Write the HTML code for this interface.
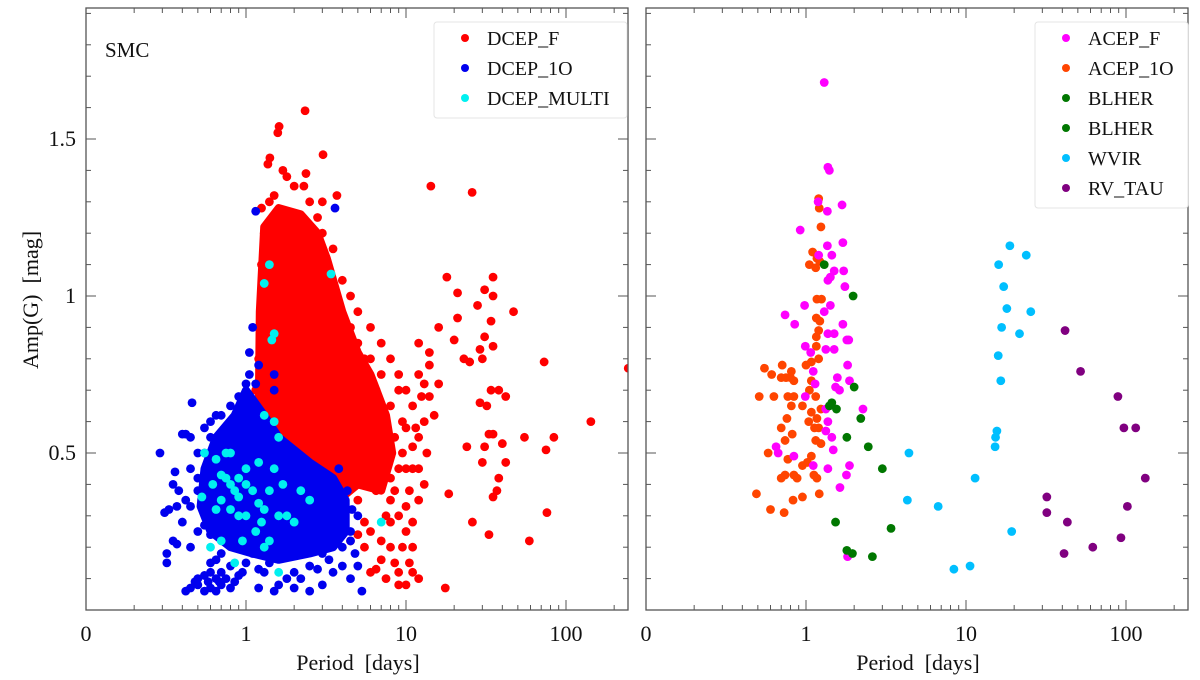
<!DOCTYPE html>
<html><head><meta charset="utf-8"><style>
html,body{margin:0;padding:0;background:#fff;}
svg{display:block;font-family:"Liberation Serif",serif;}
</style></head><body>
<svg id="chart" width="1200" height="680" viewBox="0 0 1200 680"></svg>
<script>
// ---- data (period [days], amplitude [mag]) ----
const dcepFCoreP=[1.2,1.22,1.3,1.6,2.2,2.8,3.2,4,5,6,7.5,8.2,7,5,4,3,2.2,1.6,1.25];
const dcepFCoreA=[0.62,0.95,1.22,1.28,1.26,1.2,1.12,0.95,0.82,0.75,0.62,0.5,0.38,0.4,0.36,0.4,0.45,0.55,0.6];
const dcepFP=[2.34,1.61,1.58,3.03,1.41,1.37,2.37,14.3,25.9,3.7,18,35,21,31,35,28,47,21,34,31,20,73,245,29,35,23,25,30,34,38,42,29,32,33,35,24,143,55,84,75,31,40,30,42,38,37,35,18.5,76,26,33,59,17.6,6,7,8,9,10,10.5,9.5,8.5,7.5,6.5,10,11,12,9,5.5,6,7,8,11,12,13,11,14,15,16,12,10,9,8,7,6,5,4.5,5.5,6.5,7.5,8.5,9.5,10,11,12,13,14,10,11,7,6,5,4.5,5,4.5,5.5,4,3.5,2.8,2.5,2,1.8,1.5,1.3,1.25,1.2,1.2,1.15,3,4.5,12,16,14,
  3.5,4,4.5,5,5.5,6,6.5,7,7.5,8,8.5,9,9.5,10,8,9,7,6,5,4,5.5,6.5,7.5,8,9,10.5,6,5,7,11,12,13,11.5,12.5,13.5,3,2.3,1.7,1.4,1.25];
const dcepFA=[1.59,1.54,1.52,1.45,1.44,1.42,1.39,1.35,1.33,1.32,1.06,1.06,1.01,1.02,1.0,0.97,0.95,0.93,0.92,0.87,0.86,0.79,0.77,0.83,0.84,0.80,0.79,0.80,0.70,0.70,0.68,0.66,0.65,0.56,0.56,0.52,0.60,0.55,0.55,0.51,0.52,0.53,0.47,0.47,0.42,0.38,0.36,0.37,0.31,0.28,0.24,0.22,0.07,0.45,0.4,0.35,0.3,0.25,0.38,0.2,0.15,0.1,0.13,0.08,0.12,0.1,0.08,0.2,0.12,0.22,0.28,0.45,0.55,0.6,0.65,0.68,0.62,0.72,0.75,0.7,0.75,0.8,0.85,0.9,0.95,1.0,0.8,0.7,0.6,0.55,0.5,0.58,0.52,0.45,0.72,0.78,0.33,0.28,0.55,0.6,0.65,0.5,0.35,0.22,0.28,1.05,1.15,1.25,1.3,1.35,1.38,1.32,1.2,1.1,0.9,0.8,0.7,1.2,0.9,0.85,0.9,0.82,
  0.95,0.88,0.8,0.72,0.68,0.62,0.58,0.5,0.45,0.42,0.38,0.45,0.6,0.45,0.65,0.7,0.75,0.8,0.85,0.7,0.5,0.38,0.3,0.2,0.12,0.15,0.25,0.24,0.16,0.2,0.35,0.4,0.58,0.68,0.5,1.3,1.35,1.4,1.3,1.28];
const dcep1OCoreP=[1.0,1.3,1.6,2.5,3.5,4.2,4.2,3.5,2.5,1.6,1.1,0.8,0.6,0.52,0.55,0.65,0.85];
const dcep1OCoreA=[0.7,0.62,0.55,0.47,0.42,0.35,0.25,0.2,0.18,0.16,0.18,0.2,0.25,0.33,0.45,0.55,0.62];
const dcep1OP=[3.6,1.15,0.29,0.46,0.40,0.42,0.36,0.35,0.31,0.33,0.37,0.37,0.32,0.32,0.42,0.45,0.5,0.55,0.6,0.65,0.7,0.75,0.8,0.85,0.5,0.55,0.6,0.65,0.7,0.48,0.58,0.68,0.9,0.95,1.2,1.5,1.6,2,2.5,3,5.3,4.5,4,3.5,2.2,1.8,1.3,1.0,1.1,1.4,2.8,3.3,4.8,5,0.9,0.7,0.6,0.55,0.45,0.5,0.45,0.5,0.6,0.65,0.55,0.7,1.1,1.05,1.05,1.15,1.5,1.5,1.2,2.6,4.5,5,
  0.45,0.5,0.55,0.5,0.55,0.6,0.7,0.8,0.9,0.4,0.42,0.6,0.8,1.2,2,2.5,3,4,4.5,4.6,4.3,3.8,0.35,0.38,1.0,1.1,0.45,0.65];
const dcep1OA=[1.28,1.27,0.50,0.66,0.56,0.56,0.44,0.40,0.31,0.32,0.33,0.21,0.18,0.15,0.06,0.07,0.08,0.06,0.07,0.06,0.08,0.1,0.07,0.09,0.1,0.11,0.12,0.1,0.12,0.09,0.09,0.09,0.11,0.12,0.07,0.06,0.08,0.07,0.06,0.08,0.06,0.1,0.14,0.12,0.1,0.1,0.12,0.15,0.18,0.15,0.13,0.16,0.18,0.14,0.2,0.18,0.24,0.27,0.33,0.38,0.45,0.5,0.6,0.62,0.58,0.55,0.9,0.82,0.75,0.72,0.75,0.7,0.78,0.36,0.22,0.3,
  0.2,0.25,0.32,0.42,0.5,0.55,0.62,0.65,0.68,0.28,0.35,0.15,0.14,0.13,0.12,0.14,0.18,0.2,0.25,0.32,0.38,0.45,0.22,0.38,0.72,0.62,0.55,0.16];
const dcepMP=[1.4,3.4,1.3,1.5,1.45,0.55,0.65,0.8,1.0,1.2,1.5,1.3,1.5,1.6,0.7,0.75,0.8,0.85,0.9,0.7,0.65,0.8,0.9,1.0,1.2,1.3,1.6,1.8,2.0,2.5,1.4,1.1,0.6,0.7,0.85,1.3,1.6,1.4,7,0.53,1.0,0.75,2.2,1.7,1.15,0.95,1.25,0.62,0.9];
const dcepMA=[1.10,1.07,1.04,0.88,0.86,0.5,0.48,0.5,0.45,0.47,0.45,0.62,0.6,0.55,0.43,0.42,0.4,0.38,0.36,0.35,0.32,0.32,0.3,0.3,0.34,0.32,0.3,0.3,0.28,0.35,0.38,0.38,0.2,0.22,0.15,0.2,0.12,0.22,0.28,0.36,0.4,0.5,0.38,0.4,0.25,0.22,0.28,0.4,0.42];
const acepFP=[1.30,1.37,1.4,1.19,1.36,1.68,0.92,1.36,1.7,1.45,1.2,1.5,1.72,1.37,1.42,1.75,0.98,1.42,1.3,0.74,0.85,1.7,1.37,1.5,1.8,1.85,0.99,1.07,1.33,1.5,1.82,1.11,1.57,1.87,1.14,1.53,1.62,0.99,2.27,1.33,1.37,1.33,1.45,0.65,0.67,0.84,1.48,1.11,1.87,1.37,1.79,1.63,1.82];
const acepFA=[1.68,1.41,1.40,1.30,1.27,1.29,1.21,1.16,1.17,1.13,1.13,1.08,1.08,1.05,1.06,1.03,0.97,0.97,0.95,0.94,0.91,0.91,0.88,0.88,0.86,0.86,0.84,0.82,0.83,0.83,0.78,0.76,0.74,0.73,0.72,0.71,0.70,0.68,0.64,0.64,0.60,0.57,0.55,0.52,0.50,0.49,0.51,0.46,0.46,0.45,0.43,0.39,0.17];
const acep1OP=[1.2,1.21,1.24,1.1,1.05,1.17,1.15,1.22,1.17,1.25,1.16,1.22,1.16,1.2,1.16,1.2,1.08,1.0,0.71,0.55,0.61,0.7,0.75,0.8,0.84,0.81,1.08,1.05,0.51,0.63,0.77,0.84,1.15,0.81,0.95,1.08,1.24,0.76,1.17,0.7,1.04,1.13,1.2,0.82,0.74,1.15,1.24,0.58,0.77,1.08,0.95,1.02,0.74,0.7,0.84,0.88,1.12,1.17,0.49,0.83,0.95,1.21,0.6,0.73];
const acep1OA=[1.31,1.28,1.22,1.14,1.10,1.12,1.09,1.11,0.99,0.99,0.93,0.92,0.87,0.89,0.84,0.80,0.79,0.78,0.78,0.77,0.75,0.74,0.74,0.74,0.73,0.76,0.73,0.70,0.68,0.68,0.68,0.68,0.68,0.65,0.65,0.63,0.64,0.61,0.61,0.58,0.6,0.58,0.58,0.56,0.54,0.54,0.53,0.5,0.48,0.49,0.46,0.47,0.43,0.42,0.43,0.42,0.43,0.42,0.37,0.35,0.36,0.37,0.32,0.31];
const blherP=[1.3,1.97,2.0,1.4,1.45,1.55,2.2,1.8,2.45,3.0,1.53,3.4,1.8,1.95,2.6];
const blherA=[1.10,1.0,0.71,0.65,0.66,0.64,0.61,0.55,0.52,0.45,0.28,0.26,0.19,0.18,0.17];
const wvirP=[18.8,23.8,16,17.2,18,25.4,16.7,21.6,15.9,16.5,15.6,15.3,15.2,4.4,11.4,4.3,6.7,19.3,8.4,10.6];
const wvirA=[1.16,1.13,1.10,1.03,0.96,0.95,0.90,0.88,0.81,0.73,0.57,0.55,0.52,0.50,0.42,0.35,0.33,0.25,0.13,0.14];
const rvtauP=[41.6,52,89,97,115,132,32,32,43,102,93,62,41];
const rvtauA=[0.89,0.76,0.68,0.58,0.58,0.42,0.36,0.31,0.28,0.33,0.23,0.20,0.18];
const xTickLabels=["0","1","10","100"];
const yTickValues=[0.5,1,1.5];
const yTickLabels=["0.5","1","1.5"];

// ---- axes ----
const NS="http://www.w3.org/2000/svg";
const svg=document.getElementById("chart");
const Y0=610, Y1=8, PXU=314, DEC=160, R_DOT=4.4;
function xs(p,left){return left+(Math.log10(p)+1)*DEC;}
function ys(a){return Y0-a*PXU;}
function el(tag,attrs,parent){const e=document.createElementNS(NS,tag);for(const k in attrs)e.setAttribute(k,attrs[k]);(parent||svg).appendChild(e);return e;}

function panel(left,right,name){
  const g=el("g",{});
  
  
  const clip=el("clipPath",{id:"clip-"+name},svg);
  el("rect",{x:left,y:Y1,width:right-left,height:Y0-Y1},clip);
  const data=el("g",{"clip-path":"url(#clip-"+name+")"},g);
  
  
  return {g,data,left,right};
}
function frame(P){
  const g=el("g",{},P.g);
  
  
  el("rect",{x:P.left,y:Y1,width:P.right-P.left,height:Y0-Y1,fill:"none",stroke:"#555","stroke-width":1.3},g);
  for(let d=-1;d<=3;d++){for(let m=1;m<=9;m++){
    const v=m*Math.pow(10,d); const x=xs(v,P.left); if(x>P.right-1)continue;
    const L=m===1?10:5;
    el("line",{x1:x,x2:x,y1:Y0,y2:Y0-L,stroke:"#555","stroke-width":1},g);
    el("line",{x1:x,x2:x,y1:Y1,y2:Y1+L,stroke:"#555","stroke-width":1},g);
  }}
  for(let i=1;i<=19;i++){
    const v=i/10; const y=ys(v); if(y<Y1+1)continue;
    const L=i%5===0?10:5;
    el("line",{x1:P.left,x2:P.left+L,y1:y,y2:y,stroke:"#555","stroke-width":1},g);
    el("line",{x1:P.right,x2:P.right-L,y1:y,y2:y,stroke:"#555","stroke-width":1},g);
  }
  xTickLabels.forEach((t,i)=>{
    const x=P.left+i*DEC;
    const tx=el("text",{x:x,y:641,"font-size":22,"text-anchor":"middle",fill:"#111"},g);
    
    
    tx.textContent=t;
  });
  const xt=el("text",{x:(P.left+P.right)/2+1,y:670,"font-size":22,"text-anchor":"middle",fill:"#111"},g);
  
  
  xt.textContent="Period\u00a0\u00a0[days]";
}
function core(P,px,pa,color,name){
  let d="";
  px.forEach((p,i)=>{d+=(i?"L":"M")+xs(p,P.left).toFixed(1)+","+ys(pa[i]).toFixed(1);});
  const c=el("path",{d:d+"Z",fill:color,stroke:color,"stroke-width":8,"stroke-linejoin":"round"},P.data);
  
  
}
function pts(P,px,pa,color,name){
  px.forEach((p,i)=>{
    const c=el("circle",{cx:xs(p,P.left),cy:ys(pa[i]),r:R_DOT,fill:color},P.data);
    
    
  });
}
function legend(P,x,w,entries){
  const g=el("g",{},P.g);
  
  
  el("rect",{x:x,y:22,width:w,height:entries.length*30+6,rx:3,fill:"#fff",stroke:"#e4e4e4"},g);
  entries.forEach((e,i)=>{
    const y=38+i*30;
    const c=el("circle",{cx:x+31,cy:y,r:4,fill:e[1]},g);
    
    
    const t=el("text",{x:x+53,y:y+7,"font-size":20,fill:"#111"},g);
    
    
    t.textContent=e[0];
  });
}

// left panel
const L=panel(86,628,"smc-dcep-panel");
core(L,dcepFCoreP,dcepFCoreA,"#ff0000","dcep-f-dense-region");
pts(L,dcepFP,dcepFA,"#ff0000","dcep-f-point");
core(L,dcep1OCoreP,dcep1OCoreA,"#0000ee","dcep-1o-dense-region");
pts(L,dcep1OP,dcep1OA,"#0000ee","dcep-1o-point");
pts(L,dcepMP,dcepMA,"#00f0f0","dcep-multi-point");
frame(L);
yTickValues.forEach((v,i)=>{
  const t=el("text",{x:76,y:ys(v)+7,"font-size":22,"text-anchor":"end",fill:"#111"},L.g);
  
  
  t.textContent=yTickLabels[i];
});
const yt=el("text",{x:0,y:0,"font-size":22,"text-anchor":"middle",fill:"#111",transform:"translate(38,300) rotate(-90)"},L.g);


yt.textContent="Amp(G)\u00a0\u00a0[mag]";
const smc=el("text",{x:105,y:57,"font-size":21,fill:"#111"},L.g);


smc.textContent="SMC";
legend(L,434,193,[["DCEP_F","#ff0000"],["DCEP_1O","#0000ee"],["DCEP_MULTI","#00f0f0"]]);

// right panel
const R=panel(646,1188,"smc-t2cep-acep-panel");
pts(R,acep1OP,acep1OA,"#ff4500","acep-1o-point");
pts(R,acepFP,acepFA,"#ff00ff","acep-f-point");
pts(R,blherP,blherA,"#007700","blher-point");
pts(R,wvirP,wvirA,"#00bfff","wvir-point");
pts(R,rvtauP,rvtauA,"#800080","rv-tau-point");
frame(R);
legend(R,1035,153,[["ACEP_F","#ff00ff"],["ACEP_1O","#ff4500"],["BLHER","#007700"],["BLHER","#007700"],["WVIR","#00bfff"],["RV_TAU","#800080"]]);
</script>
</body></html>
